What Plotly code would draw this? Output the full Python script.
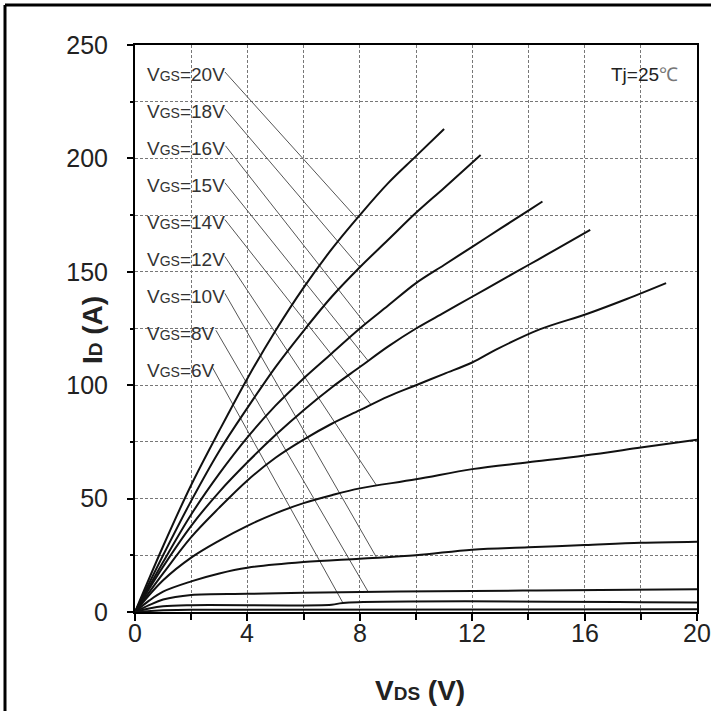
import numpy as np
import plotly.graph_objects as go

# ---------------- data ----------------
vgs_names = ["20V", "18V", "16V", "15V", "14V", "12V", "10V", "8V", "6V"]

vds_20 = [0, 1, 2, 3, 4, 5, 6, 7, 8, 9, 10, 11]
id_20 = [0, 29, 56, 80, 103, 124, 143, 160, 175, 189, 201, 213]

vds_18 = [0, 1, 2, 3, 4, 5, 6, 7, 8, 9, 10, 11, 12.3]
id_18 = [0, 25, 49, 71, 90, 108, 124, 139, 152, 164, 176, 187, 201.5]

vds_16 = [0, 1, 2, 3, 4, 5, 6, 7, 8, 9, 10, 11, 12, 13, 14, 14.5]
id_16 = [0, 22, 43, 61, 77, 91, 103, 114, 125, 135, 145, 153, 161, 169, 177, 181]

vds_15 = [0, 1, 2, 3, 4, 5, 6, 7, 8, 9, 10, 11, 12, 13, 14, 15, 16.2]
id_15 = [0, 20, 38, 53, 66, 78, 89, 99, 108, 117, 125, 132, 139, 146, 153, 160, 168.5]

vds_14 = [0, 1, 2, 3, 4, 5, 6, 7, 8, 9, 10, 11, 12, 12.9, 14.4, 16.1, 17.5, 18.9]
id_14 = [0, 17, 33, 46, 58, 68, 76, 83, 89, 95, 100, 105, 110, 116, 124.6, 131.5, 138, 145]

vds_12 = [0, 1, 2, 3, 4, 5, 6, 7, 8, 10, 12, 14, 16, 18, 20]
id_12 = [0, 14, 24, 31.5, 38, 43.5, 48, 51.5, 54.5, 58.5, 63, 66, 69, 72.5, 76]

vds_10 = [0, 0.5, 1, 2, 3, 4, 6, 8, 10, 12, 14, 16, 18, 20]
id_10 = [0, 5, 9, 13.5, 17, 19.5, 22, 23.5, 25, 27.5, 28.5, 29.5, 30.5, 31]

vds_8 = [0, 0.5, 1, 2, 4, 6, 9.4, 14.3, 20]
id_8 = [0, 3, 5.5, 7.5, 8, 8.5, 9, 9.5, 10]

vds_6 = [0, 0.5, 1, 2, 7, 7.4, 20]
id_6 = [0, 1.5, 2.5, 3, 3.2, 4, 4.2]

vds_low = [0, 1, 2, 20]
id_low = [0, 0.8, 1, 1.2]

# where each label's leader line meets its curve (V_DS)
leader_end_vds = [7.9, 8.0, 8.2, 8.3, 8.4, 8.6, 8.6, 8.3, 7.4]

x_ticks = [0, 4, 8, 12, 16, 20]
y_ticks = [0, 50, 100, 150, 200, 250]

curves_v = [vds_20, vds_18, vds_16, vds_15, vds_14, vds_12, vds_10, vds_8, vds_6]
curves_i = [id_20, id_18, id_16, id_15, id_14, id_12, id_10, id_8, id_6]

# ---------------- layout constants ----------------
W, H = 711, 711
L, R, T, B = 135, 14, 45, 99
pw, ph = W - L - R, H - T - B
FONT = "Liberation Sans, Arial, sans-serif"

label_x = 0.36
label_top = 236.8
label_step = 16.27
leader_start_x = [3.2, 3.2, 3.22, 3.2, 3.2, 3.2, 3.2, 2.88, 2.75]

fig = go.Figure()

# leader lines
for k, name in enumerate(vgs_names):
    ly = label_top - k * label_step
    xe = leader_end_vds[k]
    ye = float(np.interp(xe, curves_v[k], curves_i[k]))
    fig.add_trace(go.Scatter(x=[leader_start_x[k], xe], y=[ly + 1.3, ye], mode="lines",
                             line=dict(color="#555555", width=1), hoverinfo="skip",
                             showlegend=False))

# curves
for k, name in enumerate(vgs_names):
    fig.add_trace(go.Scatter(x=curves_v[k], y=curves_i[k], mode="lines", name="VGS=" + name,
                             line=dict(color="#111111", width=2, shape="spline", smoothing=1.0),
                             showlegend=False))
fig.add_trace(go.Scatter(x=vds_low, y=id_low, mode="lines", line=dict(color="#111111", width=2),
                         showlegend=False))

annotations = []
for k, name in enumerate(vgs_names):
    annotations.append(dict(
        x=label_x, y=label_top - k * label_step, xref="x", yref="y",
        text="V<span style='font-size:14px'>GS</span>=" + name,
        showarrow=False, xanchor="left", yanchor="middle",
        font=dict(family=FONT, size=19, color="#333333")))

annotations.append(dict(
    x=19.4, y=label_top, xref="x", yref="y", xanchor="right", yanchor="middle",
    text="Tj=25<span style='color:#777777'>℃</span>", showarrow=False,
    font=dict(family=FONT, size=19, color="#222222")))

# x tick labels
for v in x_ticks:
    annotations.append(dict(
        x=v, y=(T + ph - 633) / ph, xref="x", yref="paper", text=str(v), showarrow=False,
        xanchor="center", yanchor="middle", font=dict(family=FONT, size=25, color="#222222")))

# axis titles
annotations.append(dict(
    x=(420 - L) / pw, y=(T + ph - 690) / ph, xref="paper", yref="paper",
    text="<b>V<span style='font-size:19px'>DS</span> (V)</b>", showarrow=False,
    xanchor="center", yanchor="middle", font=dict(family=FONT, size=28, color="#222222")))
annotations.append(dict(
    x=(92 - L) / pw, y=(T + ph - 330) / ph, xref="paper", yref="paper",
    text="<b>I<span style='font-size:19px'>D</span> (A)</b>", showarrow=False, textangle=-90,
    xanchor="center", yanchor="middle", font=dict(family=FONT, size=28, color="#222222")))

# outer frame lines (page border seen in the reference)
fx0 = (5 - L) / pw
fy0 = (T + ph - 5) / ph
shapes = [
    dict(type="line", xref="paper", yref="paper", x0=fx0, x1=(W - L) / pw + 0.01, y0=fy0, y1=fy0,
         line=dict(color="black", width=3)),
    dict(type="line", xref="paper", yref="paper", x0=fx0, x1=fx0, y0=fy0, y1=(T + ph - H) / ph - 0.01,
         line=dict(color="black", width=3)),
]

grid = dict(showgrid=True, gridcolor="#777777", gridwidth=1, griddash="3px,2px")

fig.update_layout(
    width=W, height=H, margin=dict(l=L, r=R, t=T, b=B),
    paper_bgcolor="white", plot_bgcolor="white",
    annotations=annotations, shapes=shapes, showlegend=False,
    xaxis=dict(range=[0, 20], tickvals=x_ticks, showticklabels=False,
               ticks="outside", ticklen=7, tickwidth=2, tickcolor="black",
               showline=True, linecolor="black", linewidth=2, mirror=True, zeroline=False,
               minor=dict(dtick=2, tick0=0, ticks="outside", ticklen=6, tickwidth=1.5,
                          tickcolor="black", **grid),
               **grid),
    yaxis=dict(range=[0, 250], tickvals=y_ticks, ticktext=[str(v) for v in y_ticks],
               ticks="outside", ticklen=6, tickwidth=2, tickcolor="black",
               showline=True, linecolor="black", linewidth=2, mirror=True, zeroline=False,
               ticklabelstandoff=14,
               tickfont=dict(family=FONT, size=25, color="#222222"),
               minor=dict(dtick=25, tick0=0, ticks="outside", ticklen=3, tickwidth=1.5,
                          tickcolor="black", **grid),
               **grid),
)

fig.write_html("out.html")
